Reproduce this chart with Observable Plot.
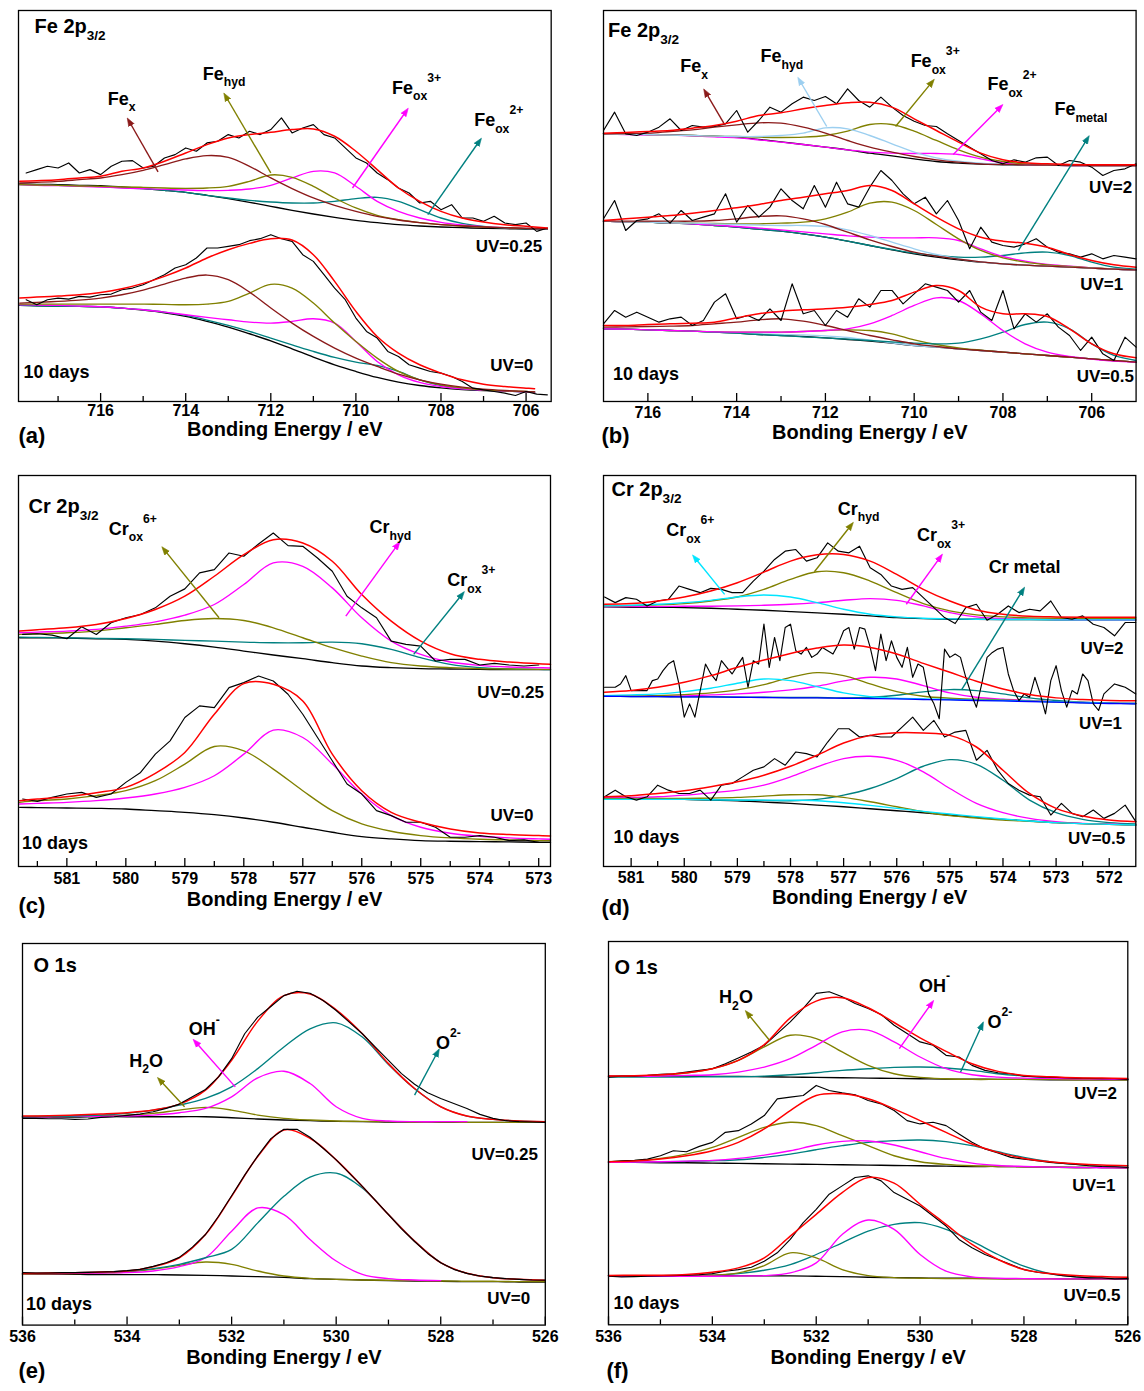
<!DOCTYPE html>
<html><head><meta charset="utf-8">
<script src="https://cdn.jsdelivr.net/npm/d3@7"></script>
<script src="https://cdn.jsdelivr.net/npm/@observablehq/plot@0.6"></script>
<style>
html,body{margin:0;padding:0;background:#fff;}
#root{position:relative;width:1144px;height:1391px;background:#fff;overflow:hidden;}
#root svg{position:absolute;overflow:visible;}
</style></head><body><div id="root"></div>
<script>
// ---------- energy grids (eV) ----------
const aX  = [717.9,717.5,717,716.5,716,715.5,715,714.5,714,713.5,713,712.5,712,711.5,711,710.5,710,709.5,709,708.5,708,707.5,707,706.5,706,705.5];
const aXL = [717.9,717.5,717,716.5,716,715.5,715,714.5,714,713.5,713,712.5,712,711.5,711,710.5,710,709.5,709,708.5,708,707.5,707,706.5,706,705.8];
const bX  = [717,716.5,716,715.5,715,714.5,714,713.5,713,712.5,712,711.5,711,710.5,710,709.5,709,708.5,708,707.5,707,706.5,706,705.5,705];
const cX  = [581.8,581.5,581,580.5,580,579.5,579,578.5,578,577.5,577,576.5,576,575.5,575,574.5,574,573.5,573,572.8];
const dX  = [581.5,581,580.5,580,579.5,579,578.5,578,577.5,577,576.5,576,575.5,575,574.5,574,573.5,573,572.5,572,571.5];
const eX  = [536,535.5,535,534.5,534,533.5,533,532.5,532,531.5,531,530.5,530,529.5,529,528.5,528,527.5,527,526.5,526];
function grid(start, step, n){ return Array.from({length:n}, (_, i) => +(start - i*step).toFixed(3)); }
const aD = grid(717.75, 0.25, 50);
const bD = grid(717, 0.25, 49);
const cD = grid(581.75, 0.25, 36);
const dD = grid(581.5, 0.2, 51);
const dDm = grid(581.5, 0.1, 101);
const eD = grid(536, 0.25, 41);

// ---------- (a) Fe 2p3/2, UV=0.25 (upper) and UV=0 (lower) ----------
const a1Bg  = [652,651,650,648,647,643,638,633,627,618,608,597,585,573,562,552,543,536,530,526,523,521,519,518,517,517];
const a1Fit = [660,662,665,670,675,690,700,720,745,770,790,800,807,815,817,795,750,695,640,600,570,550,538,530,525,520];
const a1Fex = [655,657,660,665,670,680,693,710,727,737,732,705,670,638,610,588,570,555,544,536,530,526,523,521,519,518];
const a1Hyd = [650,649,648,646,645,643,642,640,639,640,645,660,679,672,645,610,580,558,545,536,530,526,523,521,519,518];
const a1Ox3 = [650,648,647,645,643,640,638,636,634,632,633,637,648,670,690,685,645,600,570,550,537,529,524,521,519,518];
const a1Ox2 = [650,649,648,646,644,641,638,633,627,618,610,603,598,595,595,600,608,612,600,575,550,534,525,520,518,517];
const a1Data = [685,695,705,700,715,685,695,680,705,720,722,700,705,730,740,760,750,775,780,800,790,810,800,815,850,805,820,830,800,790,760,730,715,685,665,640,625,595,600,575,590,550,550,540,555,535,530,535,510,520];
const a0Bg  = [288,287,286,285,284,280,274,266,255,240,223,203,182,158,133,110,90,72,58,48,41,36,33,31,29,28];
const a0Fit = [310,313,316,320,327,338,354,375,400,430,455,474,488,484,440,360,270,195,145,110,85,65,52,45,40,38];
const a0Fex = [295,297,300,304,310,320,334,352,370,379,365,328,280,235,195,160,130,105,82,65,52,43,37,33,30,29];
const a0Hyd = [292,292,292,292,292,292,292,291,290,292,300,325,351,340,295,235,180,130,90,65,50,41,35,32,30,29];
const a0Ox3 = [290,289,288,286,284,280,275,268,260,252,245,238,235,240,248,235,180,120,80,57,45,38,34,31,29,28];
const a0Ox2 = [288,287,286,285,284,280,275,268,258,244,228,210,190,170,150,132,118,108,90,65,48,38,34,31,29,28];
const a0Data = [305,290,305,310,307,315,313,320,322,335,340,350,365,380,400,410,430,460,460,465,470,482,488,500,488,480,440,420,380,340,305,250,210,190,150,135,110,100,90,85,75,60,40,35,30,25,18,30,22,20];
const aNames = ["Fe_{x}","Fe_{hyd}","Fe_{ox}^{3+}","Fe_{ox}^{2+}"];
const aNamePos = [[715.83,890],[713.6,965],[709.15,922],[707.22,825]];
const aArrows = [[714.65,688,715.33,840],[712.0,685,713.06,915],[710.08,640,708.82,870],[708.31,560,707.1,780]];
const aUV = ["UV=0.25","UV=0"];
const aUVPos = [[705.62,448],[705.83,92]];
const aMajor = [716,714,712,710,708,706];
const aMinor = [717,715,713,711,709,707];

// ---------- (b) Fe 2p3/2, UV=2 / UV=1 / UV=0.5 ----------
const b2Bg  = [803,802,801,800,798,796,793,786,779,771,763,755,745,737,728,720,715,712,710,709,709,708,708,708,708];
const b2Fit = [805,807,810,813,820,828,841,858,866,878,888,896,898,883,848,813,778,745,725,716,713,711,710,710,710];
const b2Fex = [803,804,805,810,815,823,830,836,835,823,805,783,763,748,735,725,718,713,711,710,709,708,708,708,708];
const b2Hyd = [803,802,801,799,798,796,795,795,798,805,821,818,798,773,748,731,721,715,711,710,709,708,708,708,708];
const b2Ox3 = [803,802,801,799,798,796,795,793,792,793,798,811,831,831,811,783,755,733,720,713,710,709,708,708,708];
const b2Ox2 = [803,801,800,799,797,794,791,785,778,771,763,755,748,745,744,744,741,728,716,711,709,708,708,708,708];
const b2Data = [813,868,803,798,808,823,848,813,828,823,825,833,873,808,843,883,868,893,913,903,915,893,938,903,883,913,883,858,841,828,825,803,783,763,743,723,713,725,718,731,733,708,723,718,703,678,693,698,713];
const b1Bg  = [541,539,538,535,533,528,523,517,511,503,493,481,468,455,443,433,425,418,413,409,406,403,400,397,395];
const b1Fit = [543,548,553,558,565,573,581,591,603,613,623,633,648,633,593,553,518,493,481,475,463,441,423,410,403];
const b1Fex = [541,541,541,541,541,543,548,555,557,548,531,508,485,465,448,436,427,419,413,409,406,403,400,397,395];
const b1Hyd = [541,539,538,536,535,533,531,529,528,528,525,515,498,478,458,441,428,419,413,409,406,403,400,397,395];
const b1Ox3 = [541,539,538,536,535,534,533,533,535,538,548,568,595,598,573,531,488,453,431,418,410,405,401,397,395];
const b1Ox2 = [541,539,538,536,533,529,525,520,515,509,503,497,493,491,491,491,483,458,435,421,411,406,401,397,395];
const b1Met = [541,539,538,535,533,528,523,517,511,503,493,481,468,456,445,438,433,433,438,446,448,438,418,403,397];
const b1Data = [548,603,513,543,548,563,535,573,543,553,563,623,538,588,553,583,638,603,578,648,583,658,593,583,643,693,663,623,593,613,563,603,543,458,523,478,468,463,473,488,463,448,443,433,443,428,438,433,428];
const b0Bg  = [218,217,215,213,211,208,205,201,198,195,191,186,181,175,168,163,158,153,148,143,138,133,128,123,118];
const b0Fit = [228,228,231,233,235,238,251,263,271,275,278,283,291,303,328,348,333,283,263,263,255,218,173,143,131];
const b0Fex = [223,224,225,226,228,233,238,245,248,241,228,213,198,185,173,165,158,153,148,143,138,133,128,123,118];
const b0Hyd = [218,217,215,213,211,208,206,203,201,200,197,192,184,176,168,163,158,153,148,143,138,133,128,123,118];
const b0Ox3 = [218,217,215,213,211,209,208,208,208,210,213,215,213,203,185,171,161,154,148,143,138,133,128,123,118];
const b0Ox2 = [218,217,215,213,211,209,208,208,208,210,213,218,233,258,288,311,303,263,213,173,148,135,127,121,118];
const b0Met = [218,217,215,213,211,208,205,201,198,194,191,187,183,179,175,173,175,188,208,231,238,218,173,138,123];
const b0Data = [233,273,253,268,253,238,248,253,228,243,298,323,248,258,243,278,243,353,263,273,228,273,253,308,283,333,333,293,323,353,343,333,298,333,268,243,333,218,263,238,263,223,198,153,193,143,123,193,163];
const bNames = ["Fe_{x}","Fe_{hyd}","Fe_{ox}^{3+}","Fe_{ox}^{2+}","Fe_{metal}"];
const bNamePos = [[715.27,988],[713.46,1018],[710.08,1003],[708.35,933],[706.84,858]];
const bArrows = [[714.29,835,714.7,928],[711.97,825,712.58,963],[710.42,825,709.6,958],[709.12,741,708.06,883],[707.65,453,706.1,788]];
const bUV = ["UV=2","UV=1","UV=0.5"];
const bUVPos = [[705.09,625],[705.29,335],[705.05,58]];
const bMajor = [716,714,712,710,708,706];
const bMinor = [715,713,711,709,707];

// ---------- (c) Cr 2p3/2, UV=0.25 / UV=0 ----------
const c1Bg  = [688,688,687,685,683,678,670,660,648,636,625,613,603,598,595,594,593,592,592,592];
const c1Fit = [708,712,718,728,746,773,813,873,938,983,973,918,818,738,678,640,623,615,610,608];
const c1Hyd = [703,705,708,713,723,736,756,788,848,913,903,838,748,678,638,615,605,600,598,597];
const c1Ox6 = [698,700,703,708,718,728,740,746,740,718,688,658,633,613,603,598,595,594,593,593];
const c1Ox3 = [690,689,688,686,685,683,680,678,675,673,673,675,670,653,628,608,598,594,593,592];
const c1Data = [698,700,696,685,721,698,733,748,758,778,813,835,883,893,943,933,970,1003,965,963,928,888,813,778,748,678,668,663,618,623,623,606,611,606,603,606];
const c0Bg  = [178,177,176,175,173,168,163,156,146,133,118,103,90,83,78,76,75,74,73,73];
const c0Fit = [198,203,210,222,238,280,343,458,550,548,498,338,228,163,133,113,101,96,93,92];
const c0Hyd = [188,190,193,198,206,218,238,273,338,410,388,308,218,153,118,100,91,86,83,82];
const c0Ox6 = [193,198,203,213,228,258,308,361,348,293,228,168,128,106,93,86,82,80,78,78];
const c0Data = [203,196,208,218,223,208,218,253,283,338,378,448,483,478,538,553,573,558,518,458,388,318,248,218,168,153,133,133,118,88,88,93,88,78,80,73];
const cNames = ["Cr_{ox}^{6+}","Cr_{hyd}","Cr_{ox}^{3+}"];
const cNamePos = [[580.29,998],[575.87,1003],[574.55,843]];
const cArrows = [[578.42,748,579.35,953],[576.27,753,575.39,968],[575.12,638,574.3,818]];
const cUV = ["UV=0.25","UV=0"];
const cUVPos = [[572.91,508],[573.09,138]];
const cMajor = [581,580,579,578,577,576,575,574,573];
const cMinor = [581.5,580.5,579.5,578.5,577.5,576.5,575.5,574.5,573.5];

// ---------- (d) Cr 2p3/2, UV=2 / UV=1 / UV=0.5 ----------
const d2Bg  = [782,781,781,780,778,775,772,768,764,760,755,750,747,745,745,744,744,743,743,743,743];
const d2Fit = [790,792,800,812,830,855,887,920,939,940,920,880,835,800,773,760,754,752,751,751,751];
const d2Hyd = [785,786,788,792,800,812,835,865,888,885,860,825,792,770,758,752,749,748,748,748,748];
const d2Ox6 = [785,787,790,795,802,812,818,812,795,775,760,752,748,746,745,744,744,743,743,743,743];
const d2Ox3 = [783,783,783,784,784,785,787,790,795,802,807,802,785,765,752,747,745,744,743,743,743];
const d2Data = [812,795,810,805,785,800,805,845,835,825,838,835,825,825,860,890,925,950,955,920,930,975,950,945,965,900,880,845,835,840,810,780,750,732,780,790,742,760,785,765,775,770,800,750,745,755,730,720,695,735,735];
const d1Bg  = [513,512,512,511,511,510,509,508,508,507,506,505,503,502,500,499,497,495,493,491,490];
const d1Fit = [525,530,540,555,575,600,622,642,658,667,660,640,612,585,558,535,518,508,503,500,499];
const d1Ox6 = [515,517,520,527,537,552,565,560,542,523,512,507,505,503,501,500,498,496,494,492,491];
const d1Hyd = [514,514,515,518,523,532,548,570,584,575,550,527,513,507,504,502,499,496,494,492,491];
const d1Ox3 = [513,513,513,514,517,520,525,532,543,559,570,565,545,523,510,504,500,496,494,492,491];
const d1Met = [513,512,512,511,511,510,510,509,509,508,510,516,526,533,530,520,508,500,495,493,491];
const d1Data = [540,540,540,550,575,530,530,530,530,560,565,590,610,620,550,450,490,450,530,610,
                580,560,620,600,580,605,630,540,620,610,730,600,690,620,720,730,650,640,660,630,
                640,660,650,640,670,710,720,655,720,715,660,590,700,620,680,630,600,660,570,610,
                600,520,490,445,655,630,640,630,570,520,480,550,630,645,655,660,580,530,500,520,
                510,570,520,460,560,605,530,480,530,520,580,560,490,470,520,535,550,545,540,530,520];
const d0Bg  = [205,204,203,202,200,198,194,190,185,180,174,168,162,155,148,142,137,132,129,127,125];
const d0Fit = [210,213,220,228,240,255,275,302,335,372,395,403,402,395,360,290,220,175,152,140,135];
const d0Hyd = [205,205,205,205,206,208,212,216,216,208,195,180,165,153,146,140,136,132,129,127,125];
const d0Ox6 = [202,202,202,202,201,200,200,200,198,192,184,175,166,158,150,143,137,132,129,127,125];
const d0Ox3 = [207,208,210,215,222,230,245,270,300,325,332,320,285,235,190,162,145,135,130,128,125];
const d0Met = [205,204,203,202,201,200,199,198,202,215,235,265,302,322,308,260,200,162,142,132,128];
const d0Data = [210,230,210,200,210,245,230,220,220,230,200,245,250,270,290,300,325,305,345,340,330,375,415,415,390,395,390,390,420,450,410,440,390,405,410,320,350,290,250,230,215,210,155,190,160,150,170,145,160,185,135];
const dNames = ["Cr_{ox}^{6+}","Cr_{hyd}","Cr_{ox}^{3+}","Cr metal"];
const dNamePos = [[580.34,995],[577.11,1060],[575.62,980],[574.27,885]];
const dArrows = [[579.24,820,579.8,930],[577.55,888,576.86,1028],[575.82,790,575.18,932],[574.78,532,573.63,832]];
const dUV = ["UV=2","UV=1","UV=0.5"];
const dUVPos = [[571.73,640],[571.76,415],[571.7,68]];
const dMajor = [581,580,579,578,577,576,575,574,573,572];
const dMinor = [580.5,579.5,578.5,577.5,576.5,575.5,574.5,573.5,572.5];

// ---------- (e) O 1s, UV=0.25 / UV=0 ----------
const e1Bg  = [626,627,627,628,628,628,628,628,625,621,618,616,614,613,612,612,611,611,611,611,611];
const e1Fit = [630,631,633,636,640,648,666,708,798,916,993,998,950,878,788,713,658,630,620,615,613];
const e1O2  = [628,629,630,633,638,648,663,683,718,773,838,893,911,868,785,712,658,630,620,615,612];
const e1OH  = [628,628,629,629,630,633,640,653,688,745,765,728,658,623,615,613,613,613];
const e1H2O = [628,629,630,631,633,638,648,656,648,633,623,618,615,614,613,612,612,611,611,611,611];
const e1Data = [623,623,622,622,620,621,626,628,632,636,643,653,666,688,710,748,803,878,928,960,993,1006,1000,978,948,913,878,838,798,758,726,700,683,668,653,635,623,616,613,612,611];
const e0Bg  = [153,153,153,152,152,152,151,150,148,146,144,140,138,136,134,133,132,131,131,130,130];
const e0Fit = [156,157,158,160,163,176,203,273,388,508,588,563,498,418,333,253,188,156,143,138,135];
const e0O2  = [156,157,158,160,163,170,183,203,228,308,388,446,458,413,333,253,188,156,143,138,135];
const e0OH  = [155,155,156,157,158,163,176,203,283,353,333,258,193,153,140,136,134];
const e0H2O = [153,154,155,157,160,168,180,190,183,163,148,141,138,136,135,134,133,132,132,131,131];
const e0Data = [158,157,157,158,158,159,160,161,164,168,177,188,204,235,273,328,390,452,510,562,590,590,566,533,498,458,418,376,333,290,252,216,188,168,156,148,143,140,138,136,135];
const eNames = ["H_{2}O","OH^{-}","O^{2-}"];
const eNamePos = [[533.96,778],[532.82,873],[528.09,833]];
const eArrows = [[532.9,658,533.37,738],[531.93,718,532.69,853],[528.5,693,528.06,823]];
const eUV = ["UV=0.25","UV=0"];
const eUVPos = [[526.14,498],[526.29,63]];
const eMajor = [536,534,532,530,528,526];
const eMinor = [535,533,531,529,527];

// ---------- (f) O 1s, UV=2 / UV=1 / UV=0.5 ----------
const f2Bg  = [743,743,743,743,742,742,741,740,739,738,737,736,735,734,734,733,733,732,732,732,732];
const f2Fit = [743,744,747,753,765,790,837,917,967,977,947,903,857,817,780,757,745,741,738,737,736];
const f2H2O = [742,743,745,752,765,790,830,865,855,815,775,750,739,735,733,733,733,733,732,732,732];
const f2OH  = [742,742,743,745,747,755,770,795,835,875,880,845,800,765,747,740,737,736,735,734,733];
const f2O2  = [740,740,740,740,741,741,743,747,753,760,765,769,770,767,760,750,743,738,735,734,733];
const f2Data = [740,743,743,745,748,750,755,760,765,780,797,815,835,870,905,945,990,995,980,960,945,927,895,870,845,835,805,800,775,760,753,750,743,741,740,738,737,736,735,735,733];
const f1Bg  = [485,485,484,484,483,482,481,480,479,478,477,476,475,474,473,473,472,471,470,470,469];
const f1Fit = [487,489,495,505,520,545,585,640,685,690,675,645,610,575,540,515,497,487,481,477,475];
const f1H2O = [487,490,497,510,530,560,590,605,595,565,535,505,487,479,475,473,472,471,470,470,469];
const f1OH  = [485,486,487,489,491,497,507,520,537,548,549,537,517,497,483,476,473,471,470,469,469];
const f1O2  = [485,486,487,488,490,493,500,510,523,535,545,550,552,547,535,517,500,487,479,474,471];
const f1Data = [487,490,491,495,505,520,517,533,545,575,580,600,625,675,680,685,715,700,693,687,670,660,640,610,600,605,595,570,545,525,513,500,495,490,485,482,479,475,473,472,470];
const f0Bg  = [147,147,147,147,147,146,146,146,145,144,142,141,140,139,139,138,138,138,137,137,137];
const f0Fit = [147,148,148,150,157,170,200,265,330,395,440,423,360,300,240,195,165,153,147,144,142];
const f0H2O = [147,147,147,147,148,155,177,215,200,165,147,141,139,138,138,137,137,137,137,137,137];
const f0OH  = [145,145,145,145,145,146,147,155,185,270,313,285,210,160,143,139,138,137,137,137,137];
const f0O2  = [147,147,147,148,148,153,163,180,210,245,280,300,305,285,250,210,175,153,143,139,137];
const f0Data = [145,143,144,145,146,147,148,150,153,160,165,172,190,215,255,305,345,390,415,440,445,430,395,375,355,325,295,255,230,210,195,180,165,157,153,147,143,140,140,137,138];
const fNames = ["H_{2}O","OH^{-}","O^{2-}"];
const fNamePos = [[533.87,960],[530.02,995],[528.7,887]];
const fArrows = [[532.9,850,533.32,930],[530.4,825,529.78,960],[529.22,755,528.81,895]];
const fUV = ["UV=2","UV=1","UV=0.5"];
const fUVPos = [[526.21,675],[526.24,400],[526.14,70]];
const fMajor = [536,534,532,530,528,526];
const fMinor = [535,533,531,529,527];

// ---------- styles ----------
const FONT = "'Liberation Sans', Arial, Helvetica, sans-serif";
const RED = "#ff0000", BLK = "#000000", DRED = "#8b1a1a", OLIVE = "#808000", MAG = "#ff00ff",
      TEAL = "#008080", LBLUE = "#9ccff0", CYAN = "#00e5ff", BLUE = "#0000ff";

function S(x, y, c, kind){ return {x, y, c, kind: kind || "comp"}; }

const panels = [
  {L:18.3, R:551, T:10, B:401, xdom:[717.93,705.41], ymax:1172, major:aMajor, minor:aMinor,
   title:"Fe 2p_{3/2}", tDx:16, tDy:8, dDx:5, dDy:-23, tickDy:15, titleDy:35, tag:"(a)", tagDx:0, tagDy:42,
   names:aNames, namePos:aNamePos, arrows:aArrows, arrowColors:[DRED,OLIVE,MAG,TEAL], uv:aUV, uvPos:aUVPos,
   series:[S(aX,a1Bg,BLK),S(aX,a1Ox2,TEAL),S(aX,a1Ox3,MAG),S(aX,a1Hyd,OLIVE),S(aX,a1Fex,DRED),S(aD,a1Data,BLK,"data"),S(aX,a1Fit,RED,"fit"),
           S(aXL,a0Bg,BLK),S(aXL,a0Ox2,TEAL),S(aXL,a0Ox3,MAG),S(aXL,a0Hyd,OLIVE),S(aXL,a0Fex,DRED),S(aD,a0Data,BLK,"data"),S(aXL,a0Fit,RED,"fit")]},
  {L:602.7, R:1135.3, T:10, B:401, xdom:[717,705], ymax:1173, major:bMajor, minor:bMinor,
   title:"Fe 2p_{3/2}", tDx:4.5, tDy:12, dDx:9.5, dDy:-21, tickDy:17, titleDy:38, tag:"(b)", tagDx:-2, tagDy:42,
   names:bNames, namePos:bNamePos, arrows:bArrows, arrowColors:[DRED,LBLUE,OLIVE,MAG,TEAL], uv:bUV, uvPos:bUVPos,
   series:[S(bX,b2Bg,BLK),S(bX,b2Ox2,MAG),S(bX,b2Ox3,OLIVE),S(bX,b2Hyd,LBLUE),S(bX,b2Fex,DRED),S(bD,b2Data,BLK,"data"),S(bX,b2Fit,RED,"fit"),
           S(bX,b1Bg,BLK),S(bX,b1Met,TEAL),S(bX,b1Ox2,MAG),S(bX,b1Ox3,OLIVE),S(bX,b1Hyd,LBLUE),S(bX,b1Fex,DRED),S(bD,b1Data,BLK,"data"),S(bX,b1Fit,RED,"fit"),
           S(bX,b0Bg,BLK),S(bX,b0Hyd,LBLUE),S(bX,b0Ox3,OLIVE),S(bX,b0Met,TEAL),S(bX,b0Ox2,MAG),S(bX,b0Fex,DRED),S(bD,b0Data,BLK,"data"),S(bX,b0Fit,RED,"fit")]},
  {L:18, R:550, T:475, B:866, xdom:[581.82,572.8], ymax:1176, major:cMajor, minor:cMinor,
   title:"Cr 2p_{3/2}", tDx:10, tDy:23, dDx:3.5, dDy:-18, tickDy:17, titleDy:39, tag:"(c)", tagDx:0, tagDy:46,
   names:cNames, namePos:cNamePos, arrows:cArrows, arrowColors:[OLIVE,MAG,TEAL], uv:cUV, uvPos:cUVPos,
   series:[S(cX,c1Bg,BLK),S(cX,c1Ox3,TEAL),S(cX,c1Ox6,OLIVE),S(cX,c1Hyd,MAG),S(cD,c1Data,BLK,"data"),S(cX,c1Fit,RED,"fit"),
           S(cX,c0Bg,BLK),S(cX,c0Ox6,OLIVE),S(cX,c0Hyd,MAG),S(cD,c0Data,BLK,"data"),S(cX,c0Fit,RED,"fit")]},
  {L:602.7, R:1135, T:475, B:866, xdom:[581.52,571.5], ymax:1178, major:dMajor, minor:dMinor,
   title:"Cr 2p_{3/2}", tDx:8, tDy:6, dDx:10, dDy:-23, tickDy:17, titleDy:38, tag:"(d)", tagDx:-2, tagDy:49,
   names:dNames, namePos:dNamePos, arrows:dArrows, arrowColors:[CYAN,OLIVE,MAG,TEAL], uv:dUV, uvPos:dUVPos,
   series:[S(dX,d2Bg,BLK),S(dX,d2Ox3,MAG),S(dX,d2Hyd,OLIVE),S(dX,d2Ox6,CYAN),S(dD,d2Data,BLK,"data"),S(dX,d2Fit,RED,"fit"),
           S(dX,d1Met,TEAL),S(dX,d1Ox3,MAG),S(dX,d1Hyd,OLIVE),S(dX,d1Ox6,CYAN),S(dX,d1Bg,BLUE),S(dDm,d1Data,BLK,"data"),S(dX,d1Fit,RED,"fit"),
           S(dX,d0Bg,BLK),S(dX,d0Met,TEAL),S(dX,d0Ox3,MAG),S(dX,d0Hyd,OLIVE),S(dX,d0Ox6,CYAN),S(dD,d0Data,BLK,"data"),S(dX,d0Fit,RED,"fit")]},
  {L:21.7, R:544.5, T:942.7, B:1324.3, xdom:[536,526], ymax:1150, major:eMajor, minor:eMinor,
   title:"O 1s", tDx:11, tDy:14, dDx:3.5, dDy:-15, tickDy:17, titleDy:39, tag:"(e)", tagDx:-4, tagDy:53,
   names:eNames, namePos:eNamePos, arrows:eArrows, arrowColors:[OLIVE,MAG,TEAL], uv:eUV, uvPos:eUVPos,
   series:[S(eX,e1Bg,BLK),S(eX,e1H2O,OLIVE),S(eX,e1OH,MAG),S(eX,e1O2,TEAL),S(eX,e1Fit,RED,"fit"),S(eD,e1Data,BLK,"data"),
           S(eX,e0Bg,BLK),S(eX,e0H2O,OLIVE),S(eX,e0OH,MAG),S(eX,e0O2,TEAL),S(eX,e0Fit,RED,"fit"),S(eD,e0Data,BLK,"data")]},
  {L:608, R:1127.3, T:941, B:1324.3, xdom:[536,526], ymax:1145, major:fMajor, minor:fMinor,
   title:"O 1s", tDx:6, tDy:18, dDx:5, dDy:-16, tickDy:17, titleDy:39, tag:"(f)", tagDx:-2, tagDy:53,
   names:fNames, namePos:fNamePos, arrows:fArrows, arrowColors:[OLIVE,MAG,TEAL], uv:fUV, uvPos:fUVPos,
   series:[S(eX,f2Bg,BLK),S(eX,f2O2,TEAL),S(eX,f2H2O,OLIVE),S(eX,f2OH,MAG),S(eD,f2Data,BLK,"data"),S(eX,f2Fit,RED,"fit"),
           S(eX,f1Bg,BLK),S(eX,f1O2,TEAL),S(eX,f1H2O,OLIVE),S(eX,f1OH,MAG),S(eD,f1Data,BLK,"data"),S(eX,f1Fit,RED,"fit"),
           S(eX,f0Bg,BLK),S(eX,f0O2,TEAL),S(eX,f0H2O,OLIVE),S(eX,f0OH,MAG),S(eD,f0Data,BLK,"data"),S(eX,f0Fit,RED,"fit")]}
];

function pts(xs, ys){ return ys.map((y, i) => ({x: xs[i], y})); }

function richify(svg){
  svg.querySelectorAll("text").forEach(t => {
    const s = t.textContent;
    if (!/[_^]\{/.test(s)) return;
    const fs = parseFloat(getComputedStyle(t).fontSize) || 18;
    const parts = s.split(/(_\{[^}]*\}|\^\{[^}]*\})/).filter(d => d);
    while (t.firstChild) t.removeChild(t.firstChild);
    let cur = 0;
    for (const part of parts){
      let txt = part, shift = 0, size = fs;
      if (part.startsWith("_{")) { txt = part.slice(2, -1); shift = 0.36*fs; size = 0.68*fs; }
      else if (part.startsWith("^{")) { txt = part.slice(2, -1); shift = -0.66*fs; size = 0.68*fs; }
      const ts = document.createElementNS("http://www.w3.org/2000/svg", "tspan");
      if (shift !== cur) ts.setAttribute("dy", (shift - cur).toFixed(2));
      ts.setAttribute("font-size", size.toFixed(1));
      ts.textContent = txt;
      t.appendChild(ts);
      cur = shift;
    }
  });
}

function fixMarkers(svg){
  svg.querySelectorAll("marker").forEach(m => {
    const col = m.getAttribute("stroke") || "#000";
    m.setAttribute("fill", col);
    m.setAttribute("stroke-width", "0.6");
    const p = m.querySelector("path");
    if (p) p.setAttribute("d", "M-5,-3.3L4,0L-5,3.3Z");
  });
}

const root = document.getElementById("root");
for (const p of panels){
  const fw = p.R - p.L, fh = p.B - p.T;
  const mL = 10, mR = 10, mT = 4, mB = 72;
  const marks = [];
  for (const s of p.series){
    marks.push(Plot.line(pts(s.x, s.y), {
      x: "x", y: "y", stroke: s.c,
      strokeWidth: s.kind === "data" ? 1.15 : s.kind === "fit" ? 1.5 : 1.35,
      curve: s.kind === "data" ? "linear" : "catmull-rom"
    }));
  }
  p.arrows.forEach((a, i) => {
    marks.push(Plot.link([{x1: a[0], y1: a[1], x2: a[2], y2: a[3]}],
      {x1: "x1", y1: "y1", x2: "x2", y2: "y2", stroke: p.arrowColors[i], strokeWidth: 1.4, markerEnd: "arrow"}));
  });
  const txt = {fontFamily: FONT, fontWeight: "bold", fill: "#000"};
  marks.push(Plot.text(p.names.map((t, i) => ({t, x: p.namePos[i][0], y: p.namePos[i][1]})),
    {x: "x", y: "y", text: "t", textAnchor: "start", lineAnchor: "bottom", fontSize: 18, ...txt}));
  marks.push(Plot.text(p.uv.map((t, i) => ({t, x: p.uvPos[i][0], y: p.uvPos[i][1]})),
    {x: "x", y: "y", text: "t", textAnchor: "end", lineAnchor: "bottom", fontSize: 17, ...txt}));
  marks.push(Plot.text([p.title], {frameAnchor: "top-left", dx: p.tDx, dy: p.tDy, textAnchor: "start", lineAnchor: "top", fontSize: 20, ...txt}));
  marks.push(Plot.text(["10 days"], {frameAnchor: "bottom-left", dx: p.dDx, dy: p.dDy, textAnchor: "start", lineAnchor: "bottom", fontSize: 18, ...txt}));
  marks.push(Plot.frame({stroke: "#000", strokeWidth: 1.3}));
  marks.push(Plot.tickX(p.major, {x: d => d, stroke: "#000", strokeWidth: 1.3, insetTop: fh - 8}));
  marks.push(Plot.tickX(p.minor, {x: d => d, stroke: "#000", strokeWidth: 1.3, insetTop: fh - 5}));
  marks.push(Plot.text(p.major, {x: d => d, text: d => String(d), frameAnchor: "bottom", dy: p.tickDy, fontSize: 16, ...txt}));
  marks.push(Plot.text(["Bonding Energy / eV"], {frameAnchor: "bottom", dy: p.titleDy, fontSize: 20, ...txt}));
  marks.push(Plot.text([p.tag], {frameAnchor: "bottom-left", dx: p.tagDx, dy: p.tagDy, textAnchor: "start", fontSize: 22, ...txt}));

  const svg = Plot.plot({
    width: fw + mL + mR, height: fh + mT + mB,
    marginLeft: mL, marginRight: mR, marginTop: mT, marginBottom: mB,
    x: {domain: p.xdom, axis: null},
    y: {domain: [0, p.ymax], axis: null},
    style: {fontFamily: FONT, background: "transparent", overflow: "visible"},
    marks
  });
  svg.style.position = "absolute";
  svg.style.left = (p.L - mL) + "px";
  svg.style.top = (p.T - mT) + "px";
  svg.style.maxWidth = "none";
  root.appendChild(svg);
  richify(svg);
  fixMarkers(svg);
}
</script></body></html>
